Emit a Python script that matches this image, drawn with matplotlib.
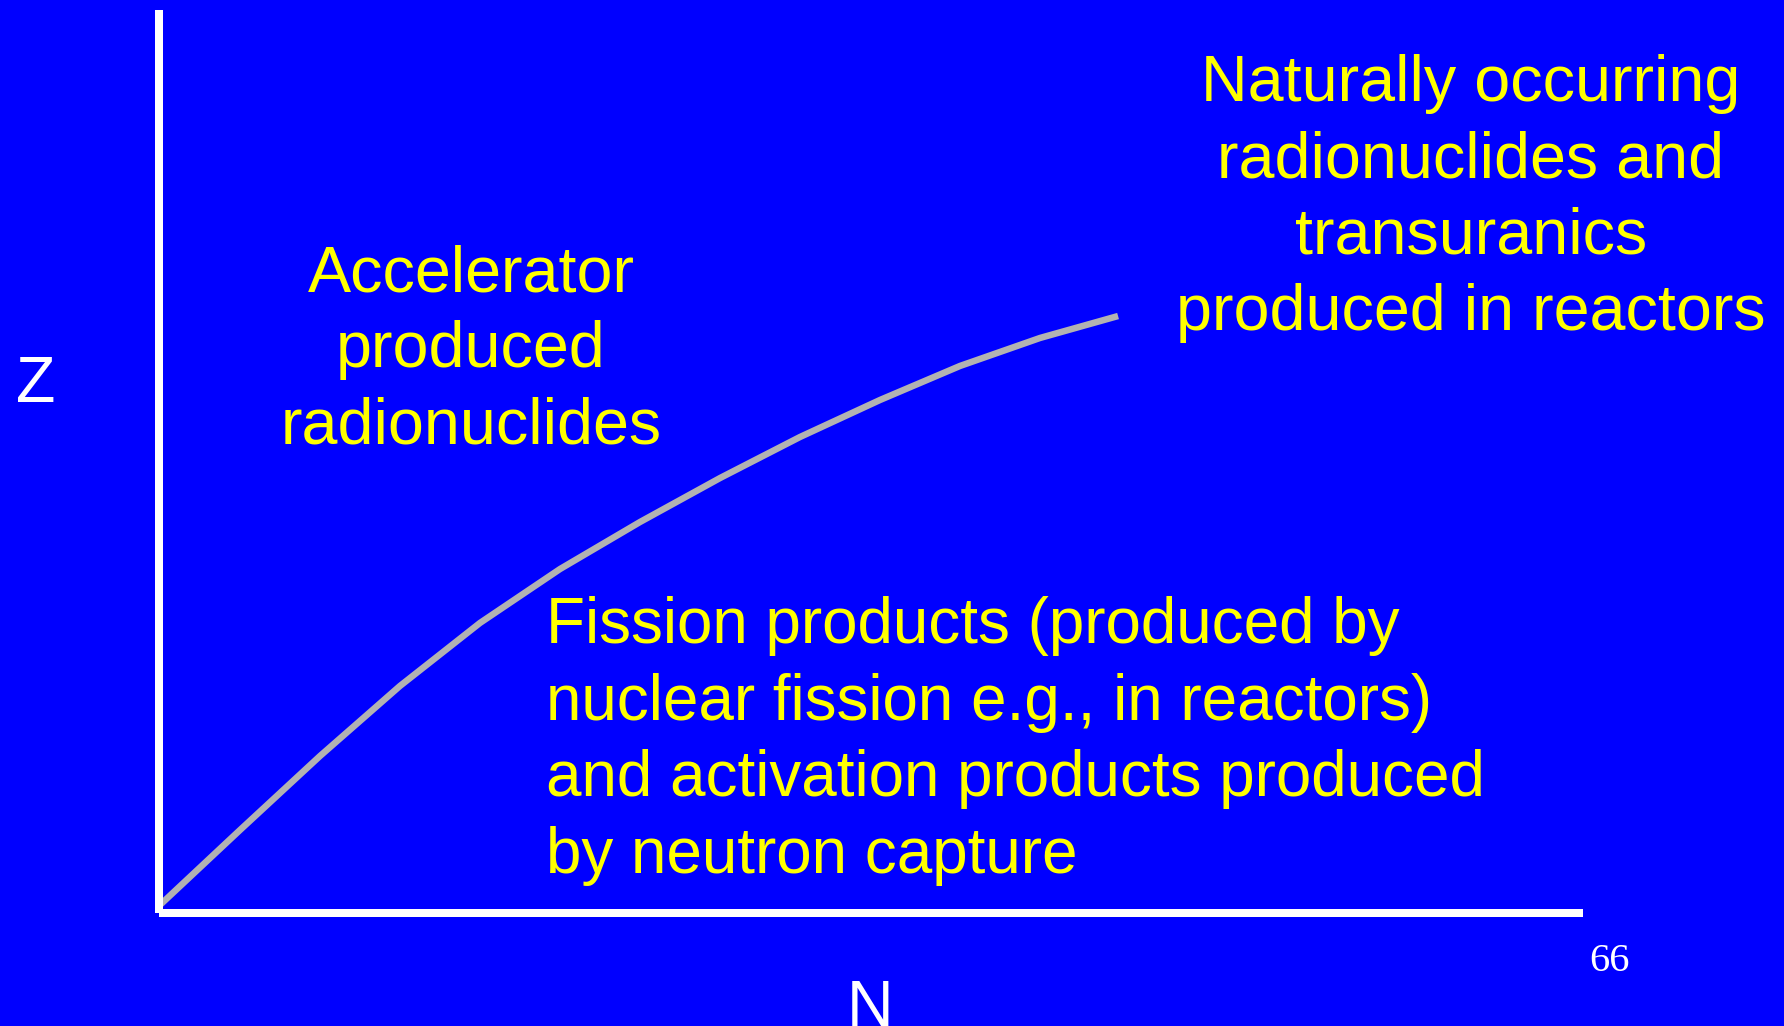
import matplotlib
matplotlib.use('Agg')
import matplotlib.pyplot as plt

# figure size in pixels (dpi 100)
W, H = 1784, 1026

# curve, in axis units (N and Z both 0..100)
curve_n = [0.07, 5.69, 11.31, 16.92, 22.54, 28.16, 33.78, 39.40, 45.01,
           50.63, 56.25, 61.87, 67.35]
curve_z = [0.89, 9.19, 17.39, 25.14, 32.12, 38.09, 43.30, 48.17, 52.71,
           56.81, 60.58, 63.68, 66.11]

accel_lines = ['Accelerator', 'produced', 'radionuclides']
natural_lines = ['Naturally occurring', 'radionuclides and', 'transuranics',
                 'produced in reactors']
fission_lines = ['Fission products (produced by',
                 'nuclear fission e.g., in reactors)',
                 'and activation products produced',
                 'by neutron capture']
x_label = 'N'
y_label = 'Z'
page_no = '66'

BLUE = '#0000ff'
YELLOW = '#ffff00'
GREY = '#b2b2b2'
FONT = 'Liberation Sans'
FS = 46.5


# pixel position -> figure fraction
def px(x, y):
    return x / W, 1 - y / H


fig = plt.figure(figsize=(W / 100, H / 100), dpi=100, facecolor=BLUE)

# axes box: left spine at x=159, bottom spine at y=913, top at y=10, right end x=1583
left, bottom = px(159, 913)
right, top = px(1583, 10)
ax = fig.add_axes([left, bottom, right - left, top - bottom])
ax.set_facecolor(BLUE)
ax.set_xlim(0, 100)
ax.set_ylim(0, 100)
for s in ['top', 'right']:
    ax.spines[s].set_visible(False)
for s in ['left', 'bottom']:
    ax.spines[s].set_color('white')
    ax.spines[s].set_linewidth(8 * 0.72)
    ax.spines[s].set_capstyle('butt')
ax.set_xticks([])
ax.set_yticks([])

ax.plot(curve_n, curve_z, color=GREY, linewidth=6.5 * 0.72,
        solid_capstyle='butt', solid_joinstyle='round', clip_on=False)

# text blocks, one line at a time so the baselines sit where they should
for i, line in enumerate(accel_lines):
    x, y = px(471, 292 + 75.5 * i)
    fig.text(x, y, line, color=YELLOW, fontsize=FS, family=FONT,
             ha='center', va='baseline')

for i, line in enumerate(natural_lines):
    x, y = px(1471, 101 + 76.3 * i)
    fig.text(x, y, line, color=YELLOW, fontsize=FS, family=FONT,
             ha='center', va='baseline')

for i, line in enumerate(fission_lines):
    x, y = px(546, 643 + 76.7 * i)
    fig.text(x, y, line, color=YELLOW, fontsize=45.9, family=FONT,
             ha='left', va='baseline')

x, y = px(16, 402)
fig.text(x, y, y_label, color='white', fontsize=FS, family=FONT,
         ha='left', va='baseline')
x, y = px(847, 1026)
fig.text(x, y, x_label, color='white', fontsize=FS, family=FONT,
         ha='left', va='baseline')
x, y = px(1589, 971)
fig.text(x, y, page_no, color='white', fontsize=29, family='Liberation Serif',
         ha='left', va='baseline')

fig.savefig('out.png', dpi=100, facecolor=BLUE)
